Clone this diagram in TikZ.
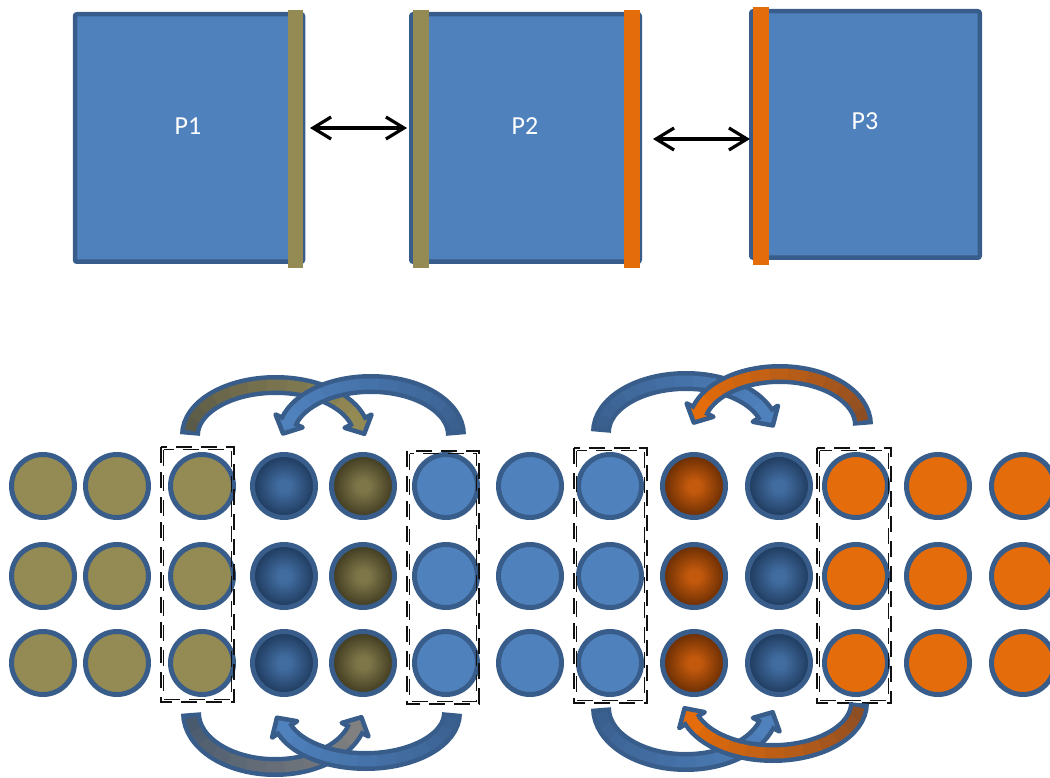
\documentclass[tikz,border=0pt]{standalone}
\usepackage{fontspec}
\setmainfont{Carlito}
\usetikzlibrary{arrows.meta}
\definecolor{bord}{HTML}{385D8A}
\definecolor{lblue}{HTML}{4F81BD}
\definecolor{olv}{HTML}{948A54}
\definecolor{orng}{HTML}{E46C0A}
\definecolor{dbin}{HTML}{416C9F}
\definecolor{dbout}{HTML}{1E395C}
\definecolor{doin}{HTML}{7E7649}
\definecolor{doout}{HTML}{3F3A20}
\definecolor{brin}{HTML}{C2590C}
\definecolor{brout}{HTML}{672C03}
\definecolor{olvdark}{HTML}{5A5A48}
\definecolor{bludark}{HTML}{3A6090}
\definecolor{orgdark}{HTML}{8E4E24}
\definecolor{gydark}{HTML}{4A5A6E}
\definecolor{gy}{HTML}{808080}
\definecolor{dashk}{HTML}{111111}
\pgfdeclareradialshading{dblueshade}{\pgfpoint{0bp}{0bp}}{color(0bp)=(dbin); color(5bp)=(dbin); color(25bp)=(dbout); color(50bp)=(dbout)}
\pgfdeclareradialshading{doliveshade}{\pgfpoint{0bp}{0bp}}{color(0bp)=(doin); color(5bp)=(doin); color(25bp)=(doout); color(50bp)=(doout)}
\pgfdeclareradialshading{brownshade}{\pgfpoint{0bp}{0bp}}{color(0bp)=(brin); color(5bp)=(brin); color(25bp)=(brout); color(50bp)=(brout)}
% #1 foot x, #2 foot y (ellipse centre y), #3 x radius, #4 y radius,
% #5 1 = arc up / -1 = arc down, #6 angle left short of a half turn,
% #7 dark colour, #8 bright colour, #9 1 = head to the right / -1 = to the left
\newcommand{\curvedarrow}[9]{%
  \pgfmathsetmacro{\mycx}{#1+#3*#9}%
  \pgfmathsetmacro{\mysg}{#5*#9}%
  \pgfmathsetmacro{\myst}{(#9>0)?180:0}%
  \pgfmathsetmacro{\mydel}{\mysg*(180-#6)}%
  \pgfmathsetmacro{\myte}{\myst+\mydel}%
  \pgfmathsetmacro{\myex}{\mycx+#3*cos(\myte)}%
  \pgfmathsetmacro{\myey}{#2+#4*sin(\myte)}%
  \pgfmathsetmacro{\mytx}{-\mysg*#3*sin(\myte)}%
  \pgfmathsetmacro{\myty}{\mysg*#4*cos(\myte)}%
  \pgfmathsetmacro{\mytn}{sqrt(\mytx*\mytx+\myty*\myty)}%
  \pgfmathsetmacro{\myux}{\mytx/\mytn}%
  \pgfmathsetmacro{\myuy}{\myty/\mytn}%
  \draw[line width=20pt, bord] (#1,#2)
     arc[start angle=\myst, delta angle=\mydel, x radius=#3, y radius=#4];
  \filldraw[fill=#8, draw=bord, line width=4.5pt, line join=round]
     ({\myex+15*\myuy},{\myey-15*\myux}) -- ({\myex-15*\myuy},{\myey+15*\myux})
     -- ({\myex+14*\myux},{\myey+14*\myuy}) -- cycle;
  \pgfmathsetmacro{\myss}{\myst+\mysg*5}%
  \pgfmathsetmacro{\mysd}{(\mydel-\mysg*5)/12}%
  \foreach \myi in {0,...,11}{%
    \pgfmathsetmacro{\myt}{\myss+\mysd*\myi}%
    \pgfmathtruncatemacro{\myp}{100*\myi/11}%
    \colorlet{segc}{#8!\myp!#7}%
    \draw[line width=11pt, segc] ({\mycx+#3*cos(\myt)},{#2+#4*sin(\myt)})
       arc[start angle=\myt, delta angle=\mysd*1.12, x radius=#3, y radius=#4];
  }
  \draw[line width=11pt, #8] ({\myex-0.5*\myux},{\myey-0.5*\myuy}) -- ({\myex+4*\myux},{\myey+4*\myuy});
}
\begin{document}
\begin{tikzpicture}[x=1pt,y=-1pt,
  pbox/.style={draw=bord, fill=lblue, line width=4.5pt, rounded corners=2pt, inner sep=0pt},
  plabel/.style={text=white, font=\fontsize{26}{30}\selectfont, inner sep=0pt},
  dbl/.style={line width=3.2pt, {Straight Barb[length=18pt,width=22pt]}-{Straight Barb[length=18pt,width=22pt]}},
  ball/.style={circle, minimum size=63pt, inner sep=0pt, line width=5pt, draw=bord},
  oball/.style={ball, fill=olv},
  lball/.style={ball, fill=lblue},
  rball/.style={ball, fill=orng},
  dbball/.style={ball, shading=dblueshade},
  doball/.style={ball, shading=doliveshade},
  brball/.style={ball, shading=brownshade},
  dboxline/.style={draw=dashk, line width=1.2pt, dash pattern=on 16pt off 9pt}
]
\useasboundingbox (0,0) rectangle (1050,778);
% top boxes
\node[pbox, minimum width=228pt, minimum height=247.5pt] (p1) at (189,138) {};
\fill[olv] (288,10) rectangle (303,268);
\node[plabel] (p1t) at (188,126) {P1};
\node[pbox, minimum width=228.5pt, minimum height=247.5pt] (p2) at (525.5,138) {};
\fill[olv] (413,10) rectangle (429,268);
\fill[orng] (624,10) rectangle (640,268);
\node[plabel] (p2t) at (525,126) {P2};
\node[pbox, minimum width=228.5pt, minimum height=246.5pt] (p3) at (865.5,134.5) {};
\fill[orng] (753,7) rectangle (769,265);
\node[plabel] (p3t) at (865,121) {P3};
\coordinate (a1s) at (310,128);
\coordinate (a1e) at (407,128);
\coordinate (a2s) at (653,139);
\coordinate (a2e) at (750,139);
\draw[dbl] (a1s) -- (a1e);
\draw[dbl] (a2s) -- (a2e);
% circles
\foreach \x/\sty [count=\c] in {43/oball,117/oball,202/oball,284/dbball,363/doball,446/lball,530/lball,610/lball,694/brball,779/dbball,856/rball,938/rball,1023/rball}{
  \foreach \y [count=\r] in {486,576,663}{
    \node[\sty] (c\r-\c) at (\x,\y) {};
  }
}
% dashed boxes (double dashed outline)
\draw[dboxline] (161,447) rectangle (234,702);
\draw[dboxline] (163.6,449.6) rectangle (231.4,699.4);
\draw[dboxline] (407,451) rectangle (479,704);
\draw[dboxline] (409.6,453.6) rectangle (476.4,701.4);
\draw[dboxline] (574,448) rectangle (647,703);
\draw[dboxline] (576.6,450.6) rectangle (644.4,700.4);
\draw[dboxline] (817,448) rectangle (891,703);
\draw[dboxline] (819.6,450.6) rectangle (888.4,700.4);
% curved arrows
\curvedarrow{190}{435}{85.7}{50}{1}{16}{olvdark}{olv}{1}
\curvedarrow{456}{435}{85.1}{51}{1}{16}{bludark}{lblue}{-1}
\curvedarrow{601}{432}{85}{51}{1}{21}{bludark}{lblue}{1}
\curvedarrow{863}{425}{83.3}{51}{1}{17}{orgdark}{orng}{-1}
\curvedarrow{191}{713}{84.1}{54}{-1}{18}{gydark}{gy}{1}
\curvedarrow{452}{713}{86.3}{48}{-1}{20}{bludark}{lblue}{-1}
\curvedarrow{601}{708}{84.7}{54}{-1}{18}{bludark}{lblue}{1}
\curvedarrow{859}{703}{86.1}{50}{-1}{20}{orgdark}{orng}{-1}
\end{tikzpicture}
\end{document}
